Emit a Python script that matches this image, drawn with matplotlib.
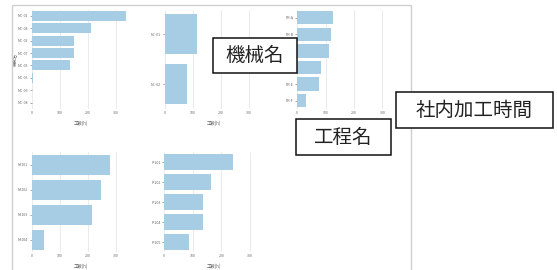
import matplotlib
matplotlib.use("Agg")
import matplotlib.pyplot as plt
from matplotlib.patches import Rectangle

plt.rcParams['font.family'] = ['Noto Sans CJK JP', 'DejaVu Sans']

W, H = 557, 270

# ---- data ----
cats1 = ["MC-01", "MC-04", "MC-02", "MC-07", "MC-03", "MC-05", "MC-06", "MC-08"]
vals1 = [336, 210, 150, 149, 136, 5, 0, 0]
cats2 = ["NC-01", "NC-02"]
vals2 = [116, 79]
cats3 = ["PR-A", "PR-B", "PR-C", "PR-D", "PR-E", "PR-F"]
vals3 = [127, 120, 112, 83, 77, 31]
cats4 = ["M-101", "M-102", "M-103", "M-104"]
vals4 = [280, 245, 214, 42]
cats5 = ["P-201", "P-202", "P-203", "P-204", "P-205"]
vals5 = [241, 163, 136, 134, 85]
xticks = [0, 100, 200, 300]
xlabel_txt = "工数(h)"
ylabel_txt = "機械名"
notes = ["機械名", "社内加工時間", "工程名"]

BAR = "#a6cde3"

fig = plt.figure(figsize=(W / 100, H / 100), dpi=100)


def px_axes(x0, y0, x1, y1):
    return fig.add_axes([x0 / W, 1 - y1 / H, (x1 - x0) / W, (y1 - y0) / H])


def draw(ax, cats, vals, ylabel=None):
    ypos = list(range(len(cats)))
    ax.barh(ypos, vals, height=0.8, color=BAR, zorder=2)
    ax.set_yticks(ypos)
    ax.set_yticklabels(cats)
    ax.set_ylim(len(cats) - 0.5, -0.5)
    ax.set_xlim(0, 350)
    ax.set_xticks(xticks)
    ax.tick_params(axis='both', labelsize=2.6, colors='#666666', length=1.2, width=0.4, pad=1.5)
    ax.tick_params(axis='x', length=0)
    ax.grid(axis='x', color='#e8e8e8', linewidth=0.6, zorder=0)
    for s in ax.spines.values():
        s.set_visible(False)
    ax.set_xlabel(xlabel_txt, fontsize=3.2, color='#666666', labelpad=4)
    if ylabel:
        ax.set_ylabel(ylabel, fontsize=3.2, color='#666666')
        ax.yaxis.set_label_coords(-0.155, 0.5)
    ax.set_facecolor('none')


ax1 = px_axes(32, 9.5, 130, 109)
draw(ax1, cats1, vals1, ylabel=ylabel_txt)
ax2 = px_axes(164.7, 9.5, 262.7, 109)
draw(ax2, cats2, vals2)
ax3 = px_axes(297.3, 9.5, 396.7, 109)
draw(ax3, cats3, vals3)
ax4 = px_axes(32, 152, 130, 252)
draw(ax4, cats4, vals4)
ax5 = px_axes(164.3, 152, 264.3, 252)
draw(ax5, cats5, vals5)

# panel frame
fig.patches.append(Rectangle((12 / W, 1 - 275 / H), (411 - 12) / W, (275 - 5) / H,
                             transform=fig.transFigure, fill=False,
                             edgecolor='#cfcfcf', linewidth=1.0, zorder=0))

# annotation boxes
boxes = [(212.7, 38, 297, 73), (396, 92, 553, 128), (296, 119, 391, 155)]
for (x0, y0, x1, y1), t in zip(boxes, notes):
    fig.patches.append(Rectangle((x0 / W, 1 - y1 / H), (x1 - x0) / W, (y1 - y0) / H,
                                 transform=fig.transFigure, facecolor='white',
                                 edgecolor='#111111', linewidth=1.1, zorder=5))
    fig.text((x0 + x1) / 2 / W, 1 - (y0 + y1) / 2 / H, t, ha='center', va='center',
             fontsize=14, color='#222222', zorder=6)

fig.savefig("out.png", dpi=100, facecolor='white')
